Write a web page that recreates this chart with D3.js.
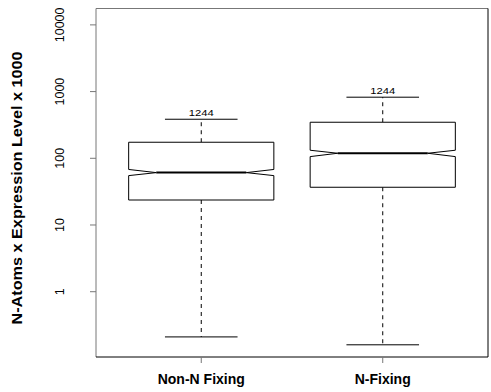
<!DOCTYPE html>
<html>
<head>
	<title>N-Atoms boxplot</title>
	<script src="https://cdn.jsdelivr.net/npm/d3@7/dist/d3.min.js"></script>
	<style>
		body { margin: 0; background: white; }
		text { font-family: "Liberation Sans", Arial, sans-serif; }
	</style>
</head>
<body>
	<svg id="chart" width="491" height="392"></svg>

	<script>
		// data
		var categories = ['Non-N Fixing', 'N-Fixing'];
		var lowerWhisker = [0.21, 0.16];
		var q1 = [23.7, 36.8];
		var medians = [61, 119];
		var q3 = [174, 347];
		var upperWhisker = [385, 824];
		var notchLow = [55, 106];
		var notchHigh = [68, 132];
		var counts = ['1244', '1244'];
		var yTicks = [1, 10, 100, 1000, 10000];

		var svg = d3.select('#chart');
		var plotL = 96, plotR = 488, plotT = 8.5, plotB = 357;  // window.top is reserved

		var y = d3.scaleLog()
			.domain([0.105, 17600])
			.range([plotB, plotT]);

		var x = d3.scaleBand()
			.domain(categories)
			.range([plotL, plotR])
			.paddingInner(0)
			.paddingOuter(0.08);

		var step = x.step();
		var boxW = step * 0.8, capW = step * 0.4, notchIn = boxW * 0.19;

		// frame
		svg.append('line').attr('x1', plotL).attr('x2', plotR).attr('y1', plotT).attr('y2', plotT).attr('stroke', '#777');
		svg.append('line').attr('x1', plotL).attr('x2', plotL).attr('y1', plotT).attr('y2', plotB).attr('stroke', '#777');
		svg.append('line').attr('x1', plotR).attr('x2', plotR).attr('y1', plotT).attr('y2', plotB).attr('stroke', '#000');
		svg.append('line').attr('x1', plotL).attr('x2', plotR).attr('y1', plotB).attr('y2', plotB).attr('stroke', '#000');

		// y axis ticks
		svg.selectAll('.ytick')
			.data(yTicks)
			.enter()
			.append('line')
			.attr('x1', plotL - 6).attr('x2', plotL)
			.attr('y1', d => y(d)).attr('y2', d => y(d))
			.attr('stroke', '#777');

		svg.selectAll('.ylab')
			.data(yTicks)
			.enter()
			.append('text')
			.attr('transform', d => 'translate(64,' + y(d) + ') rotate(-90)')
			.attr('text-anchor', 'middle')
			.attr('font-size', '12.5px')
			.text(d => d);

		svg.append('text')
			.attr('transform', 'translate(22,188) rotate(-90)')
			.attr('text-anchor', 'middle')
			.attr('font-size', '14px')
			.attr('font-weight', 'bold')
			.attr('textLength', 273)
			.attr('lengthAdjust', 'spacingAndGlyphs')
			.text('N-Atoms x Expression Level x 1000');

		// x ticks + labels
		categories.forEach((c, i) => {
			var cx = x(c) + x.bandwidth() / 2;
			svg.append('line')
				.attr('x1', cx).attr('x2', cx).attr('y1', plotB).attr('y2', plotB + 6)
				.attr('stroke', '#777');
			svg.append('text')
				.attr('x', cx).attr('y', 383.5)
				.attr('text-anchor', 'middle')
				.attr('font-size', '14px')
				.attr('font-weight', 'bold')
				.text(c);
		});

		// boxes
		categories.forEach((c, i) => {
			var cx = x(c) + x.bandwidth() / 2;
			var x0 = cx - boxW / 2, x1 = cx + boxW / 2;
			var g = svg.append('g');

			// whiskers
			g.append('line')
				.attr('x1', cx).attr('x2', cx)
				.attr('y1', y(q3[i])).attr('y2', y(upperWhisker[i]))
				.attr('stroke', 'black').attr('stroke-dasharray', '4,4');
			g.append('line')
				.attr('x1', cx).attr('x2', cx)
				.attr('y1', y(q1[i])).attr('y2', y(lowerWhisker[i]))
				.attr('stroke', 'black').attr('stroke-dasharray', '4,4');
			[upperWhisker[i], lowerWhisker[i]].forEach(v => {
				g.append('line')
					.attr('x1', cx - capW / 2).attr('x2', cx + capW / 2)
					.attr('y1', y(v)).attr('y2', y(v))
					.attr('stroke', 'black');
			});

			// notched box
			var pts = [
				[x0, y(q1[i])], [x0, y(notchLow[i])], [x0 + notchIn, y(medians[i])],
				[x0, y(notchHigh[i])], [x0, y(q3[i])], [x1, y(q3[i])],
				[x1, y(notchHigh[i])], [x1 - notchIn, y(medians[i])], [x1, y(notchLow[i])],
				[x1, y(q1[i])]
			];
			g.append('path')
				.attr('d', d3.line()(pts) + 'Z')
				.attr('fill', 'white')
				.attr('stroke', 'black')
				.attr('stroke-width', 1);

			// median
			g.append('line')
				.attr('x1', x0 + notchIn).attr('x2', x1 - notchIn)
				.attr('y1', y(medians[i])).attr('y2', y(medians[i]))
				.attr('stroke', 'black').attr('stroke-width', 2);

			// count label
			g.append('text')
				.attr('x', cx).attr('y', y(upperWhisker[i]) - 3.5)
				.attr('text-anchor', 'middle')
				.attr('font-size', '9px')
				.attr('textLength', 25)
				.attr('lengthAdjust', 'spacingAndGlyphs')
				.text(counts[i]);
		});
	</script>
</body>
</html>
